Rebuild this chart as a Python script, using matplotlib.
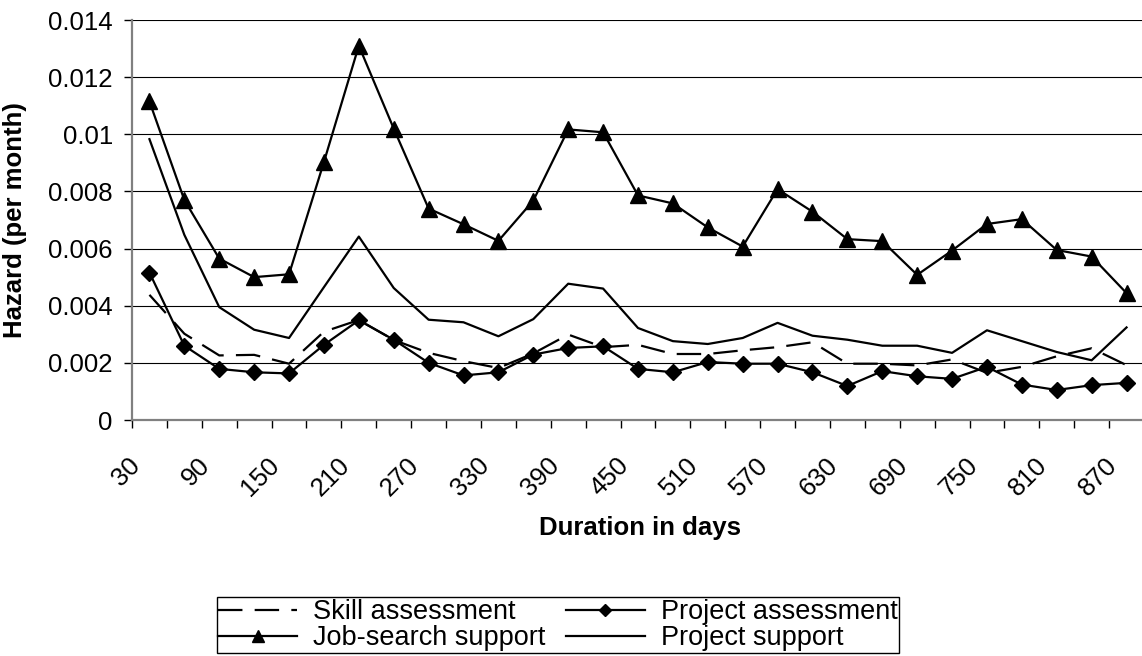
import numpy as np
import matplotlib
matplotlib.use("Agg")
import matplotlib.pyplot as plt
from matplotlib.ticker import FuncFormatter
from matplotlib.transforms import ScaledTranslation, blended_transform_factory

plt.rcParams['font.family'] = ['Liberation Sans', 'DejaVu Sans']

# Duration categories (days)
days = [30, 60, 90, 120, 150, 180, 210, 240, 270, 300, 330, 360, 390, 420, 450,
        480, 510, 540, 570, 600, 630, 660, 690, 720, 750, 780, 810, 840, 870]

# Hazard rates per month, by programme
skill_assessment = [0.00438, 0.00302, 0.00226, 0.00228, 0.00197, 0.00309, 0.00350,
                    0.00280, 0.00235, 0.00206, 0.00182, 0.00233, 0.00299, 0.00255,
                    0.00263, 0.00231, 0.00231, 0.00244, 0.00255, 0.00272, 0.00197,
                    0.00197, 0.00191, 0.00212, 0.00165, 0.00186, 0.00223, 0.00251,
                    0.00192]
project_assessment = [0.00516, 0.00260, 0.00179, 0.00167, 0.00163, 0.00263, 0.00349,
                      0.00281, 0.00200, 0.00156, 0.00167, 0.00229, 0.00252, 0.00258,
                      0.00179, 0.00167, 0.00203, 0.00197, 0.00197, 0.00167, 0.00119,
                      0.00171, 0.00153, 0.00144, 0.00186, 0.00124, 0.00105, 0.00122,
                      0.00130]
job_search_support = [0.01115, 0.00770, 0.00565, 0.00500, 0.00510, 0.00903, 0.01310,
                      0.01020, 0.00740, 0.00685, 0.00627, 0.00768, 0.01017, 0.01007,
                      0.00786, 0.00758, 0.00674, 0.00607, 0.00808, 0.00729, 0.00633,
                      0.00626, 0.00508, 0.00593, 0.00686, 0.00703, 0.00595, 0.00572,
                      0.00444]
project_support = [0.00983, 0.00648, 0.00395, 0.00316, 0.00287, 0.00465, 0.00642,
                   0.00462, 0.00351, 0.00342, 0.00293, 0.00353, 0.00477, 0.00460,
                   0.00322, 0.00276, 0.00266, 0.00287, 0.00340, 0.00295, 0.00281,
                   0.00260, 0.00260, 0.00235, 0.00314, 0.00276, 0.00238, 0.00209,
                   0.00324]

y_ticks = [0, 0.002, 0.004, 0.006, 0.008, 0.010, 0.012, 0.014]

FS = 18.5
W, H = 1142, 656
fig = plt.figure(figsize=(W / 100, H / 100), dpi=100)
ax = fig.add_axes([132 / W, (H - 420) / H, 1012 / W, 400 / H])

x = np.arange(len(days))
lw = 1.6
l_skill, = ax.plot(x, skill_assessment, color='black', lw=lw,
                   linestyle=(0, (11, 5.5)), label='Skill assessment', zorder=3)
l_pa, = ax.plot(x, project_assessment, color='black', lw=lw, marker='D', ms=8,
                label='Project assessment', zorder=4)
l_js, = ax.plot(x, job_search_support, color='black', lw=lw, marker='^', ms=11.5,
                label='Job-search support', zorder=4)
l_ps, = ax.plot(x, project_support, color='black', lw=lw,
                label='Project support', zorder=3)

# Axes limits and y ticks
ax.set_xlim(-0.5, len(days) - 0.5)
ax.set_ylim(0, 0.014)
ax.set_yticks(y_ticks)
ax.yaxis.set_major_formatter(FuncFormatter(lambda v, p: f"{v:g}"))
ax.tick_params(axis='y', length=5.8, width=1, color='black', labelsize=FS, pad=8)
ax.yaxis.grid(True, color='black', lw=0.8)
ax.set_axisbelow(True)

# Category boundaries as tick marks, every second category labelled
ax.set_xticks(np.arange(-0.5, len(days), 1))
ax.set_xticklabels([])
ax.tick_params(axis='x', length=5.8, width=1, color='black')
lab_tr = blended_transform_factory(ax.transData, ax.transAxes) + \
    ScaledTranslation(-0.13, -0.42, fig.dpi_scale_trans)
for i in range(0, len(days), 2):
    ax.text(x[i], 0, str(days[i]), transform=lab_tr, rotation=45,
            rotation_mode='anchor', ha='right', va='center', fontsize=FS)

for s in ('top', 'right'):
    ax.spines[s].set_visible(False)
for s in ('left', 'bottom'):
    ax.spines[s].set_color('#808080')
    ax.spines[s].set_linewidth(1.6)

fig.text(640 / W, 1 - 528 / H, 'Duration in days', ha='center', va='center',
         fontsize=FS, fontweight='bold')
fig.text(3 / W, 1 - 220 / H, 'Hazard (per month)', rotation=90, ha='left',
         va='center', fontsize=FS, fontweight='bold')

leg = fig.legend([l_skill, l_js, l_pa, l_ps],
                 ['Skill assessment', 'Job-search support',
                  'Project assessment', 'Project support'],
                 ncol=2, loc='center', bbox_to_anchor=(558 / W, 1 - 625 / H),
                 frameon=True, fancybox=False, edgecolor='black', framealpha=1,
                 handlelength=2.9, handletextpad=0.6, columnspacing=0.75,
                 borderpad=0.06, labelspacing=0.0, markerscale=0.75,
                 fontsize=19.5)
leg.get_frame().set_linewidth(1.0)

fig.savefig('out.png', dpi=100)
